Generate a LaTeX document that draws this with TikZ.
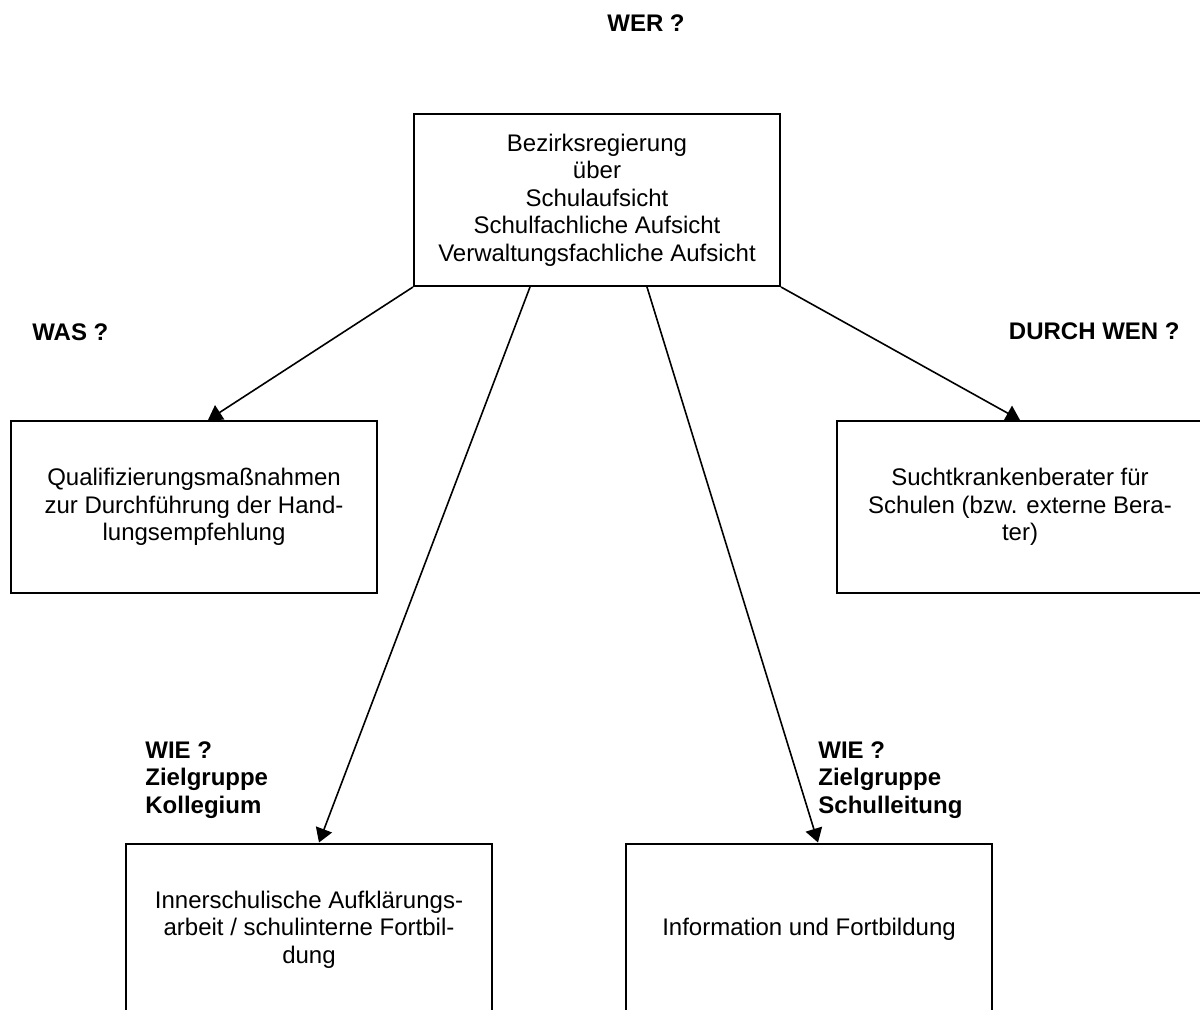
\documentclass[tikz,border=0pt]{standalone}
\usepackage{fontspec}
\setmainfont{Liberation Sans}
\usepackage{tikz}
\usetikzlibrary{arrows.meta,positioning}
\newcommand{\lbl}[1]{\textbf{#1}}

\begin{document}
\begin{tikzpicture}[x=0.5pt,y=-0.5pt,
        every node/.style={font=\fontsize{12pt}{13.8pt}\selectfont},
        box/.style={rectangle,draw=black,line width=1pt,
          minimum width=183pt,minimum height=86pt,align=center},
        label/.style={align=left,inner sep=0pt},
        arrow/.style={-{Triangle[length=7pt,width=8.5pt]},line width=0.8pt}]
        \useasboundingbox (0,0) rectangle (1200,1009);
        % boxes
        \node[box] (top) at (597,200) {Bezirksregierung\\über\\Schulaufsicht\\Schulfachliche Aufsicht\\Verwaltungsfachliche Aufsicht};
        \node[box] (qual) at (194,507) {Qualifizierungsmaßnahmen\\zur Durchführung der Hand-\\lungsempfehlung};
        \node[box] (berater) at (1020,507) {Suchtkrankenberater für\\Schulen (bzw. externe Bera-\\ter)};
        \node[box] (inner) at (309,929.5) {Innerschulische Aufklärungs-\\arbeit / schulinterne Fortbil-\\dung};
        \node[box] (info) at (809,929.5) {Information und Fortbildung};
        % questions
        \node[label] (wer) at (646,23) {\lbl{WER ?}};
        \node[label,anchor=west] (was) at (32,332) {\lbl{WAS ?}};
        \node[label,anchor=east] (durch) at (1180,331) {\lbl{DURCH WEN ?}};
        \node[label,anchor=west] (wiel) at (145,780) {\lbl{WIE ?}\\\lbl{Zielgruppe}\\\lbl{Kollegium}};
        \node[label,anchor=west] (wier) at (818,780) {\lbl{WIE ?}\\\lbl{Zielgruppe}\\\lbl{Schulleitung}};
        % arrows
        \draw[arrow] (top.south west) -- ([xshift=7pt]qual.north);
        \draw[arrow] (top.south east) -- (berater.north);
        \draw[arrow] ([xshift=-33.5pt]top.south) -- ([xshift=5pt]inner.north);
        \draw[arrow] ([xshift=25pt]top.south) -- ([xshift=4.5pt]info.north);
      \end{tikzpicture}
\end{document}
